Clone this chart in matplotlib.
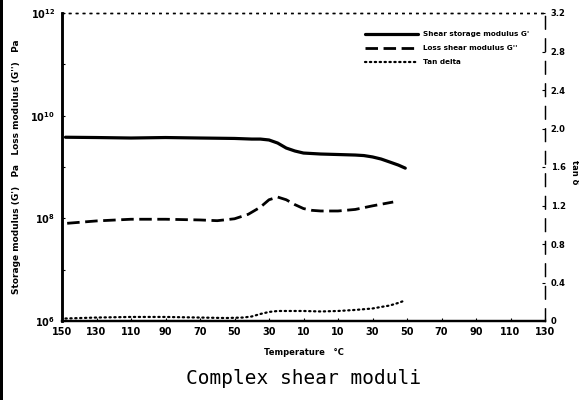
import matplotlib
matplotlib.use("Agg")
import matplotlib.pyplot as plt
from matplotlib.patches import Rectangle

# ---- data ----
temp_storage = [-148, -130, -110, -90, -70, -50, -40, -35, -30, -25, -20, -15,
                -10, 0, 10, 20, 25, 30, 35, 40, 45, 49]
storage_modulus = [3.8e9, 3.75e9, 3.67e9, 3.75e9, 3.67e9, 3.6e9, 3.5e9, 3.5e9,
                   3.36e9, 2.93e9, 2.34e9, 2.05e9, 1.87e9, 1.79e9, 1.75e9,
                   1.71e9, 1.67e9, 1.57e9, 1.43e9, 1.25e9, 1.09e9, 9.5e8]

temp_loss = [-147, -130, -110, -90, -70, -60, -50, -42, -35, -30, -25, -20,
             -15, -10, -5, 0, 10, 20, 30, 42]
loss_modulus = [8.0e7, 8.9e7, 9.6e7, 9.6e7, 9.3e7, 9.0e7, 9.8e7, 1.2e8, 1.65e8,
                2.3e8, 2.6e8, 2.3e8, 1.85e8, 1.55e8, 1.43e8, 1.39e8, 1.39e8,
                1.49e8, 1.75e8, 2.08e8]

temp_tan = [-148, -130, -110, -90, -70, -55, -45, -40, -35, -30, -25, -20,
            -10, 0, 10, 20, 30, 35, 40, 45, 48]
tan_delta = [0.026, 0.036, 0.042, 0.042, 0.036, 0.031, 0.036, 0.047, 0.073,
             0.094, 0.104, 0.104, 0.104, 0.099, 0.104, 0.115, 0.130, 0.146,
             0.161, 0.188, 0.208]

x_ticks = [-150, -130, -110, -90, -70, -50, -30, -10, 10, 30, 50, 70, 90, 110, 130]
x_tick_labels = ["150", "130", "110", "90", "70", "50", "30", "10",
                 "10", "30", "50", "70", "90", "110", "130"]
left_ticks = [1e6, 1e8, 1e10, 1e12]
left_tick_labels = [r"$\mathbf{10^{6}}$", r"$\mathbf{10^{8}}$",
                    r"$\mathbf{10^{10}}$", r"$\mathbf{10^{12}}$"]
right_ticks = [0, 0.4, 0.8, 1.2, 1.6, 2.0, 2.4, 2.8, 3.2]
right_tick_labels = ["0", "0.4", "0.8", "1.2", "1.6", "2.0", "2.4", "2.8", "3.2"]

legend_labels = ["Shear storage modulus G'", "Loss shear modulus G''", "Tan delta"]

# ---- figure ----
W, H = 579, 400
fig = plt.figure(figsize=(W / 100, H / 100), dpi=100)
fig.patch.set_facecolor("white")

L, R, B, T = 62, 545, 321, 13
ax = fig.add_axes([L / W, 1 - B / H, (R - L) / W, (B - T) / H])
ax2 = ax.twinx()

l1, = ax.plot(temp_storage, storage_modulus, color="black", lw=2.3,
              solid_capstyle="round")
l2, = ax.plot(temp_loss, loss_modulus, color="black", lw=2.0,
              linestyle=(0, (4.5, 2)))
l3, = ax2.plot(temp_tan, tan_delta, color="black", lw=1.6,
               linestyle=(0, (0.6, 1.6)), dash_capstyle="round")

ax.set_yscale("log")
ax.set_ylim(1e6, 1e12)
ax.set_xlim(-150, 130)
ax2.set_ylim(0, 3.2)

ax.set_xticks(x_ticks)
ax.set_xticklabels(x_tick_labels, fontsize=7, fontweight="bold")
ax.set_yticks(left_ticks)
ax.set_yticklabels(left_tick_labels, fontsize=7)
ax.yaxis.set_minor_locator(matplotlib.ticker.LogLocator(base=10, numticks=20))
ax.yaxis.set_minor_formatter(matplotlib.ticker.NullFormatter())
ax.tick_params(axis="x", direction="in", length=2, width=0.8, pad=4)
ax.tick_params(axis="y", which="both", direction="in", length=2, width=0.8, pad=5)

ax2.set_yticks(right_ticks)
ax2.set_yticklabels(right_tick_labels, fontsize=6, fontweight="bold")
ax2.tick_params(axis="y", direction="in", length=2, width=0.8, pad=4)

for a in (ax, ax2):
    a.spines["left"].set_linewidth(1.8)
    a.spines["bottom"].set_linewidth(1.6)
    a.spines["top"].set_linewidth(1.0)
    a.spines["top"].set_linestyle((0, (1, 4)))
    a.spines["right"].set_linewidth(0.9)
    a.spines["right"].set_linestyle((0, (10, 8)))

ax.set_xlabel("Temperature   °C", fontsize=6, fontweight="bold", labelpad=8)
ax.set_ylabel("Storage modulus (G')   Pa   Loss modulus (G'')   Pa",
              fontsize=6.5, fontweight="bold", labelpad=7)
fig.text(0.992, 1 - 172 / H, "tan δ", rotation=270, fontsize=6,
         fontweight="bold", ha="center", va="center")

leg = ax2.legend([l1, l2, l3], legend_labels, loc="upper left",
                 bbox_to_anchor=((365 - L) / (R - L), (B - 31) / (B - T)),
                 frameon=False, fontsize=5.2, handlelength=7.3,
                 handletextpad=0.7, labelspacing=1.1, borderpad=0,
                 borderaxespad=0)
for t in leg.get_texts():
    t.set_fontweight("bold")

fig.text(303 / W, 1 - 378 / H, "Complex shear moduli",
         family="DejaVu Sans Mono", fontsize=14, ha="center", va="center")

# scan border artifact on the left edge
fig.add_artist(Rectangle((0, 0), 3 / W, 1, transform=fig.transFigure,
                         color="black", lw=0))

fig.savefig("out.png", dpi=100, facecolor="white")
